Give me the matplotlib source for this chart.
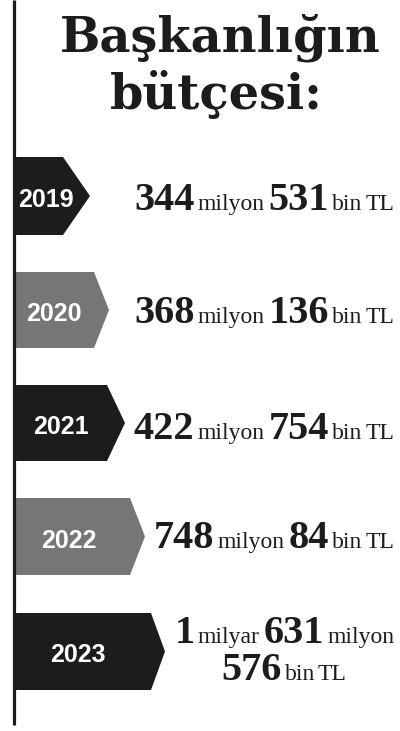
import matplotlib
matplotlib.use('Agg')
import matplotlib.pyplot as plt
from matplotlib.patches import Polygon

# data
years = ['2019', '2020', '2021', '2022', '2023']
milyar = [0, 0, 0, 0, 1]
milyon = [344, 368, 422, 748, 631]
bin_tl = [531, 136, 754, 84, 576]
title_lines = ['Başkanlığın', 'bütçesi:']

W, H = 400, 731
fig = plt.figure(figsize=(W / 100, H / 100), dpi=100)
ax = fig.add_axes([0, 0, 1, 1])
ax.set_xlim(0, W)
ax.set_ylim(H, 0)
ax.axis('off')
renderer = fig.canvas.get_renderer()

dark = '#1c1c1c'
grey = '#767676'
num_font = dict(family='Liberation Serif', weight='bold', size=29)
word_font = dict(family='Liberation Serif', size=17)

# vertical rule on the left
ax.plot([14, 14], [0, 725], color=dark, lw=2.3, solid_capstyle='butt')

# title
ax.text(220, 52, title_lines[0], ha='center', va='baseline',
        family='DejaVu Serif', weight='bold', size=34.5, color=dark)
ax.text(216, 109, title_lines[1], ha='center', va='baseline',
        family='DejaVu Serif', weight='bold', size=34.5, color=dark)

# arrow shapes: top, bottom, body right edge, tip
tops = [157, 272, 385, 498, 613]
bottoms = [235, 348, 461, 575, 690]
bodies = [63, 94, 107, 130, 151]
tips = [90, 109, 125, 145, 165]
baselines = [[210], [323], [439], [548], [643, 680]]


def draw_line(segs, right=None, center=None, y=0):
    # place text pieces one after another, then shift to the alignment
    arts = []
    x = 0
    for s, bold, gap in segs:
        t = ax.text(x, y, s, ha='left', va='baseline', color=dark,
                    **(num_font if bold else word_font))
        w = t.get_window_extent(renderer).width
        arts.append((t, x))
        x += w + gap
    total = x - segs[-1][2]
    if right is not None:
        x0 = right - total
    else:
        x0 = center - total / 2
    for t, xx in arts:
        t.set_x(x0 + xx)
    return x0, total


def unit(word):
    if word == 'bin TL':
        return [('bin', False, 3), ('TL', False, 4)]
    return [(word, False, 4)]


for i, yr in enumerate(years):
    col = grey if i % 2 == 1 else dark
    top, bot, body, tip = tops[i], bottoms[i], bodies[i], tips[i]
    mid = (top + bot) / 2
    poly = Polygon([(14, top), (body, top), (tip, mid), (body, bot), (14, bot)],
                   closed=True, facecolor=col, edgecolor='none')
    ax.add_patch(poly)
    ax.text(14 + 0.42 * (tip - 14), mid + 4, yr, ha='center', va='center',
            color='white', family='Liberation Sans', weight='bold', size=18)

    if milyar[i] > 0:
        segs1 = [(str(milyar[i]), True, 3)] + unit('milyar') + \
                [(str(milyon[i]), True, 3)] + unit('milyon')
        segs2 = [(str(bin_tl[i]), True, 3)] + unit('bin TL')
        x0, total = draw_line(segs1, right=394, y=baselines[i][0])
        draw_line(segs2, center=x0 + total / 2, y=baselines[i][1])
    else:
        segs = [(str(milyon[i]), True, 3)] + unit('milyon') + \
               [(str(bin_tl[i]), True, 3)] + unit('bin TL')
        draw_line(segs, right=394, y=baselines[i][0])

fig.savefig('out.png', dpi=100, facecolor='white')
